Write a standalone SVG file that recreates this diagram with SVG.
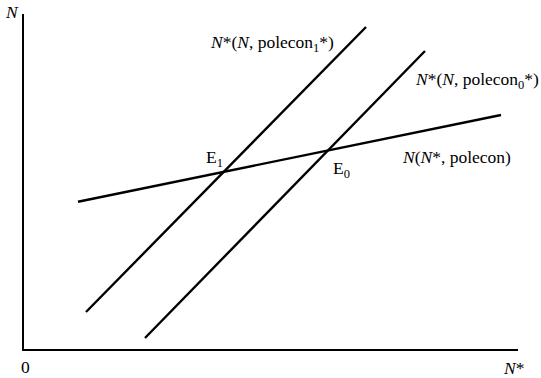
<svg xmlns="http://www.w3.org/2000/svg" width="541" height="378" viewBox="0 0 541 378">
<style>
.ax{stroke:#000;stroke-width:2;fill:none}
.ln{stroke:#000;stroke-width:2.4;fill:none;stroke-linecap:butt}
text{font-family:"Liberation Serif","Times New Roman",serif;font-size:17.5px;fill:#000}
.i{font-style:italic}
.sub{font-size:12.5px}
</style>
<rect width="541" height="378" fill="#fff"/>
<g id="axes">
<path class="ax" d="M23,14 V350 H518"/>
<text x="6" y="18" class="i">N</text>
<text x="21" y="373">0</text>
<text x="504" y="374"><tspan class="i">N</tspan>*</text>
</g>
<g id="connectors">
<line id="curve-N" class="ln" x1="78" y1="201.7" x2="501" y2="115"/>
<line id="curve-Nstar1" class="ln" x1="86" y1="312" x2="366" y2="27"/>
<line id="curve-Nstar0" class="ln" x1="145" y1="338" x2="425" y2="51"/>
</g>
<g id="label-Nstar1"><text x="211" y="48"><tspan class="i">N</tspan>*(<tspan class="i">N</tspan>, polecon<tspan class="sub" dy="4">1</tspan><tspan dy="-4">*)</tspan></text></g>
<g id="label-Nstar0"><text x="416" y="85"><tspan class="i">N</tspan>*(<tspan class="i">N</tspan>, polecon<tspan class="sub" dy="4">0</tspan><tspan dy="-4">*)</tspan></text></g>
<g id="label-N"><text x="403" y="163"><tspan class="i">N</tspan>(<tspan class="i">N</tspan>*, polecon)</text></g>
<g id="E1"><text x="206" y="163">E<tspan class="sub" dy="4">1</tspan></text></g>
<g id="E0"><text x="333" y="174">E<tspan class="sub" dy="4">0</tspan></text></g>
</svg>
